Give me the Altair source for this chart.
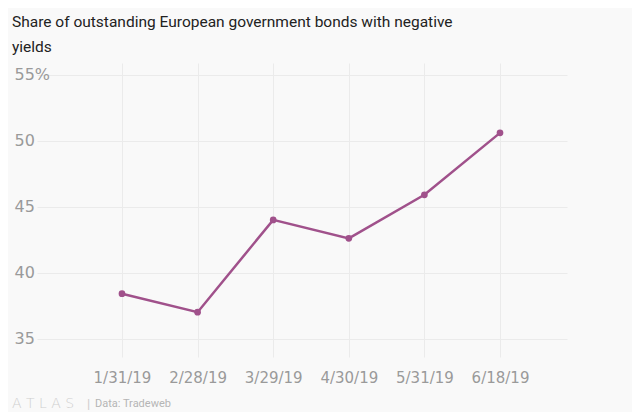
import json
import altair as alt
import pandas as pd

dates = ["1/31/19", "2/28/19", "3/29/19", "4/30/19", "5/31/19", "6/18/19"]
share = [38.4, 37.0, 44.0, 42.6, 45.9, 50.6]
y_ticks = [35, 40, 45, 50, 55]

title_lines = ["Share of outstanding European government bonds with negative", "yields"]

df = pd.DataFrame({"idx": list(range(len(dates))), "date": dates, "share": share})

LINE = "#a0518b"
GRAY = "#9a9a9a"
AXFONT = "DejaVu Sans"
TFONT = "Roboto"

x = alt.X(
    "idx:Q",
    scale=alt.Scale(domain=[-1.124, 5.886], nice=False, zero=False),
    axis=alt.Axis(
        title=None, values=list(range(len(dates))), ticks=False, domain=False, grid=True,
        gridColor="#ebebeb", labelColor=GRAY, labelFontSize=15, labelFont=AXFONT,
        labelPadding=13, labelAngle=0, labelFlush=False,
        labelExpr=json.dumps(dates) + "[datum.value]",
    ),
)
y = alt.Y(
    "share:Q",
    scale=alt.Scale(domain=[33.6, 55.9], nice=False, zero=False),
    axis=alt.Axis(
        title=None, values=y_ticks, ticks=False, domain=False, grid=True,
        gridColor="#ebebeb", labelColor=GRAY, labelFontSize=16, labelFont=AXFONT,
        labelAlign="left", labelPadding=23, labelBaseline="middle",
        labelExpr="datum.value == 55 ? '55%' : datum.label",
    ),
)

base = alt.Chart(df)
line = base.mark_line(color=LINE, strokeWidth=2.5).encode(x=x, y=y)
pts = base.mark_circle(color=LINE, size=45, opacity=1).encode(x=x, y=y)

logo = alt.Chart(pd.DataFrame({"t": ["A  T  L  A  S"]})).mark_text(
    align="left", baseline="middle", fontSize=14, color="#cfcfcf", font="DejaVu Sans", fontWeight=200
).encode(text="t:N", x=alt.value(-25), y=alt.value(341))
sep = alt.Chart(pd.DataFrame({"t": ["|"]})).mark_text(
    align="left", baseline="middle", fontSize=13, color="#cccccc", font=TFONT
).encode(text="t:N", x=alt.value(50), y=alt.value(341))
src = alt.Chart(pd.DataFrame({"t": ["Data: Tradeweb"]})).mark_text(
    align="left", baseline="middle", fontSize=11, color="#b5b5b5", font=TFONT
).encode(text="t:N", x=alt.value(58), y=alt.value(341))

chart = (
    alt.layer(line, pts, logo, sep, src)
    .properties(
        width=530,
        height=294,
        autosize=alt.AutoSizeParams(type="none"),
        padding={"left": 29, "top": 55, "right": 65, "bottom": 55},
        background="#f9f9f9",
        title=alt.TitleParams(
            text=title_lines, anchor="start", frame="group", dx=-25, offset=8,
            fontSize=15.5, font=TFONT, fontWeight="normal", color="#222222", lineHeight=24.5,
        ),
    )
    .configure_view(stroke=None)
)

chart.save("out.html", embed_options={"renderer": "svg", "actions": False})
